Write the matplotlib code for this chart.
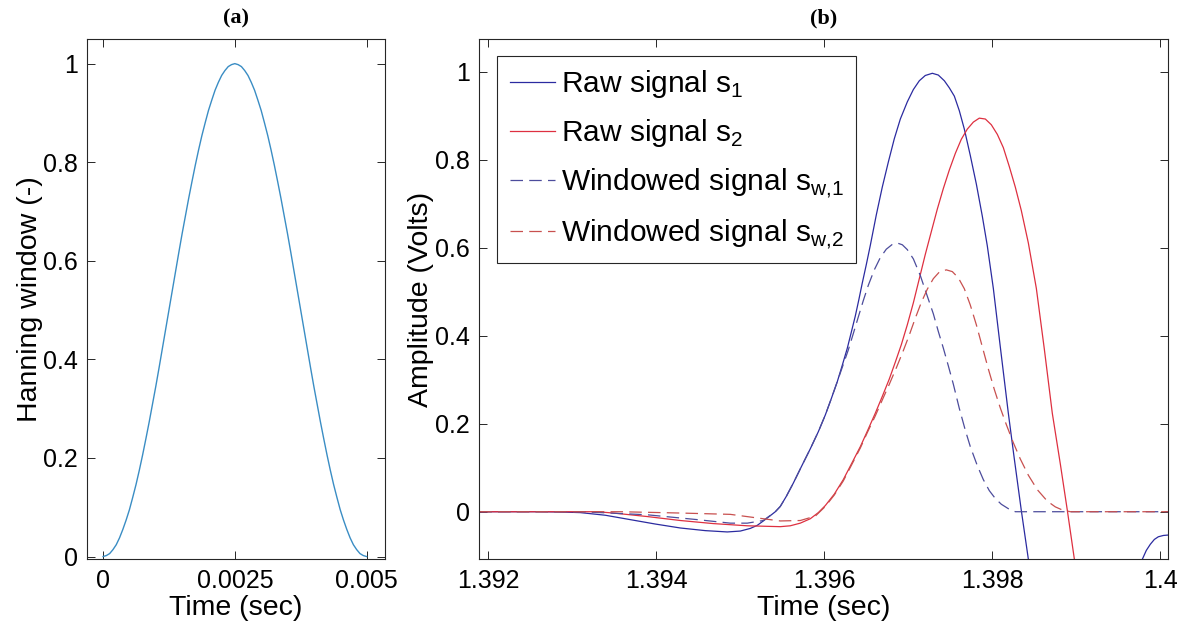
import matplotlib
matplotlib.use("Agg")
import matplotlib.pyplot as plt

plt.rcParams['font.family'] = ['Liberation Sans', 'DejaVu Sans']

# (a) Hanning window, time in ms
hann_t_ms = [0.0, 0.0625, 0.125, 0.1875, 0.25, 0.3125, 0.375, 0.4375, 0.5, 0.5625,
             0.625, 0.6875, 0.75, 0.8125, 0.875, 0.9375, 1.0, 1.0625, 1.125, 1.1875,
             1.25, 1.3125, 1.375, 1.4375, 1.5, 1.5625, 1.625, 1.6875, 1.75, 1.8125,
             1.875, 1.9375, 2.0, 2.0625, 2.125, 2.1875, 2.25, 2.3125, 2.375, 2.4375,
             2.5, 2.5625, 2.625, 2.6875, 2.75, 2.8125, 2.875, 2.9375, 3.0, 3.0625,
             3.125, 3.1875, 3.25, 3.3125, 3.375, 3.4375, 3.5, 3.5625, 3.625, 3.6875,
             3.75, 3.8125, 3.875, 3.9375, 4.0, 4.0625, 4.125, 4.1875, 4.25, 4.3125,
             4.375, 4.4375, 4.5, 4.5625, 4.625, 4.6875, 4.75, 4.8125, 4.875, 4.9375,
             5.0]
hann_w = [0.000, 0.002, 0.006, 0.014, 0.024, 0.038, 0.055, 0.074, 0.095, 0.120,
          0.146, 0.175, 0.206, 0.239, 0.273, 0.309, 0.345, 0.383, 0.422, 0.461,
          0.500, 0.539, 0.578, 0.617, 0.655, 0.691, 0.727, 0.761, 0.794, 0.825,
          0.854, 0.880, 0.905, 0.926, 0.946, 0.962, 0.976, 0.986, 0.994, 0.998,
          1.000, 0.998, 0.994, 0.986, 0.976, 0.962, 0.946, 0.926, 0.905, 0.880,
          0.854, 0.825, 0.794, 0.761, 0.727, 0.691, 0.655, 0.617, 0.578, 0.539,
          0.500, 0.461, 0.422, 0.383, 0.345, 0.309, 0.273, 0.239, 0.206, 0.175,
          0.146, 0.120, 0.095, 0.074, 0.055, 0.038, 0.024, 0.014, 0.006, 0.002,
          0.000]

# (b) raw and windowed signals
t_s1 = [1.391893, 1.392619, 1.392917, 1.393095, 1.393393, 1.393690, 1.393988,
        1.394286, 1.394583, 1.394845, 1.395000, 1.395119, 1.395202, 1.395274,
        1.395357, 1.395417, 1.395476, 1.395548, 1.395631, 1.395726, 1.395833,
        1.395929, 1.396012, 1.396083, 1.396155, 1.396214, 1.396274, 1.396321,
        1.396369, 1.396411, 1.396452, 1.396500, 1.396548, 1.396619, 1.396690,
        1.396762, 1.396833, 1.396905, 1.396988, 1.397060, 1.397131, 1.397202,
        1.397286, 1.397357, 1.397429, 1.397488, 1.397548, 1.397607, 1.397667,
        1.397738, 1.397810, 1.397881, 1.397940, 1.398012, 1.398095, 1.398190,
        1.398262, 1.398345, 1.398429, 1.398512, 1.399167, 1.399643, 1.399786,
        1.399833, 1.399881, 1.399929, 1.399976, 1.400036, 1.400095]
s1 = [0.0, 0.0, -0.001, -0.002, -0.008, -0.018, -0.028,
      -0.037, -0.043, -0.046, -0.044, -0.038, -0.031, -0.021,
      -0.009, 0.0, 0.012, 0.035, 0.065, 0.102, 0.143,
      0.182, 0.220, 0.257, 0.296, 0.333, 0.372, 0.408,
      0.445, 0.482, 0.520, 0.562, 0.606, 0.675, 0.738,
      0.795, 0.848, 0.893, 0.932, 0.960, 0.980, 0.992,
      0.997, 0.993, 0.980, 0.964, 0.945, 0.912, 0.870,
      0.810, 0.745, 0.672, 0.605, 0.508, 0.375, 0.225,
      0.120, 0.003, -0.108, -0.220, -0.450, -0.200, -0.108,
      -0.088, -0.074, -0.063, -0.057, -0.054, -0.053]

t_s2 = [1.391893, 1.393298, 1.393488, 1.393893, 1.394286, 1.394679, 1.395083,
        1.395476, 1.395595, 1.395714, 1.395833, 1.395929, 1.396012, 1.396119,
        1.396226, 1.396321, 1.396429, 1.396512, 1.396607, 1.396690, 1.396774,
        1.396845, 1.396917, 1.396988, 1.397060, 1.397131, 1.397202, 1.397274,
        1.397345, 1.397417, 1.397488, 1.397560, 1.397631, 1.397702, 1.397774,
        1.397845, 1.397917, 1.397988, 1.398060, 1.398131, 1.398202, 1.398274,
        1.398345, 1.398429, 1.398524, 1.398619, 1.398714, 1.398810, 1.398893,
        1.398976, 1.399107]
s2 = [0.0, 0.0, -0.003, -0.011, -0.020, -0.027, -0.032,
      -0.034, -0.032, -0.026, -0.016, -0.002, 0.014, 0.040,
      0.073, 0.108, 0.148, 0.183, 0.224, 0.262, 0.302,
      0.340, 0.380, 0.425, 0.475, 0.530, 0.585, 0.637,
      0.688, 0.735, 0.777, 0.815, 0.847, 0.870, 0.886,
      0.895, 0.893, 0.880, 0.858, 0.828, 0.785, 0.738,
      0.685, 0.611, 0.508, 0.370, 0.224, 0.108, 0.003,
      -0.107, -0.280]

t_w1 = [1.391893, 1.393095, 1.393333, 1.393893, 1.394488, 1.394881, 1.395083,
        1.395274, 1.395417, 1.395476, 1.395548, 1.395631, 1.395726, 1.395833,
        1.395929, 1.396012, 1.396083, 1.396155, 1.396226, 1.396286, 1.396345,
        1.396405, 1.396464, 1.396524, 1.396595, 1.396667, 1.396738, 1.396810,
        1.396869, 1.396929, 1.396988, 1.397060, 1.397143, 1.397214, 1.397298,
        1.397357, 1.397417, 1.397476, 1.397536, 1.397607, 1.397679, 1.397738,
        1.397821, 1.397893, 1.397964, 1.398036, 1.398107, 1.398190, 1.398274,
        1.400095]
w1 = [0.0, 0.0, -0.002, -0.007, -0.018, -0.026, -0.026,
      -0.020, 0.0, 0.012, 0.035, 0.065, 0.102, 0.143,
      0.182, 0.220, 0.257, 0.296, 0.335, 0.368, 0.405,
      0.443, 0.480, 0.515, 0.550, 0.578, 0.597, 0.608,
      0.611, 0.607, 0.596, 0.575, 0.537, 0.497, 0.450,
      0.410, 0.372, 0.332, 0.290, 0.235, 0.185, 0.148,
      0.105, 0.073, 0.048, 0.030, 0.017, 0.007, 0.0,
      0.0]

t_w2 = [1.391893, 1.393571, 1.394286, 1.394881, 1.395274, 1.395476, 1.395714,
        1.395893, 1.396012, 1.396119, 1.396226, 1.396321, 1.396429, 1.396512,
        1.396607, 1.396690, 1.396774, 1.396857, 1.396940, 1.397012, 1.397083,
        1.397155, 1.397226, 1.397298, 1.397369, 1.397452, 1.397524, 1.397595,
        1.397667, 1.397738, 1.397810, 1.397881, 1.397952, 1.398024, 1.398095,
        1.398167, 1.398250, 1.398333, 1.398429, 1.398536, 1.398655, 1.398750,
        1.398833, 1.398929, 1.400095]
w2 = [0.0, 0.0, -0.003, -0.006, -0.016, -0.021, -0.020,
      -0.010, 0.012, 0.038, 0.070, 0.105, 0.145, 0.180,
      0.218, 0.254, 0.290, 0.327, 0.366, 0.402, 0.440,
      0.476, 0.506, 0.530, 0.545, 0.550, 0.546, 0.532,
      0.507, 0.470, 0.425, 0.375, 0.325, 0.278, 0.236,
      0.198, 0.157, 0.120, 0.083, 0.050, 0.024, 0.011,
      0.004, 0.0, 0.0]

labels = [r'Raw signal s$_\mathregular{1}$', r'Raw signal s$_\mathregular{2}$',
          r'Windowed signal s$_\mathregular{w{,}1}$', r'Windowed signal s$_\mathregular{w{,}2}$']

a_xticks = [0, 0.0025, 0.005]
a_xticklabels = ['0', '0.0025', '0.005']
b_xticks = [1.392, 1.394, 1.396, 1.398, 1.4]
b_xticklabels = ['1.392', '1.394', '1.396', '1.398', '1.4']
yticks = [0, 0.2, 0.4, 0.6, 0.8, 1]
yticklabels = ['0', '0.2', '0.4', '0.6', '0.8', '1']


def style(ax):
    for sp in ax.spines.values():
        sp.set_color('#262626')
        sp.set_linewidth(0.8)
    ax.tick_params(direction='in', top=True, right=True, length=5.5, width=0.7,
                   labelsize=18, colors='#262626', labelcolor='black', pad=7)


fig = plt.figure(figsize=(11.89, 6.35), dpi=100)
ax1 = fig.add_axes([0.0734, 0.1197, 0.2504, 0.8189])
ax2 = fig.add_axes([0.4031, 0.1197, 0.5795, 0.8189])

ax1.plot([t / 1000 for t in hann_t_ms], hann_w, color='#3a8dc4', lw=1.0)
ax1.set_xlim(-0.0003, 0.00535)
ax1.set_ylim(-0.005, 1.05)
ax1.set_xticks(a_xticks)
ax1.set_xticklabels(a_xticklabels)
ax1.set_yticks(yticks)
ax1.set_yticklabels(yticklabels)
ax1.set_xlabel('Time (sec)', fontsize=20.5, labelpad=2)
ax1.set_ylabel('Hanning window (-)', fontsize=20.5, labelpad=-0.3)
ax1.set_title('(a)', fontsize=16, fontweight='bold', family='Liberation Serif', pad=11)
style(ax1)

dash = (0, (10, 5))
ax2.plot(t_s1, s1, color='#2b2ba0', lw=0.9, label=labels[0])
ax2.plot(t_s2, s2, color='#de3040', lw=0.9, label=labels[1])
ax2.plot(t_w1, w1, color='#4c4c9c', lw=0.9, ls=dash, label=labels[2])
ax2.plot(t_w2, w2, color='#c8504f', lw=0.9, ls=dash, label=labels[3])
ax2.set_xlim(1.391893, 1.400095)
ax2.set_ylim(-0.1075, 1.075)
ax2.set_xticks(b_xticks)
ax2.set_xticklabels(b_xticklabels)
ax2.set_yticks(yticks)
ax2.set_yticklabels(yticklabels)
ax2.set_xlabel('Time (sec)', fontsize=20.5, labelpad=2)
ax2.set_ylabel('Amplitude (Volts)', fontsize=20.5, labelpad=0.5)
ax2.set_title('(b)', fontsize=16, fontweight='bold', family='Liberation Serif', pad=11)
style(ax2)

leg = ax2.legend(loc='upper left', bbox_to_anchor=(0.026, 0.968), borderaxespad=0,
                 fontsize=21.5, handlelength=1.5, handletextpad=0.2,
                 labelspacing=0.58, borderpad=0.42, fancybox=False, framealpha=1)
leg.get_frame().set_edgecolor('#262626')
leg.get_frame().set_linewidth(0.8)

fig.savefig('out.png', dpi=100)
